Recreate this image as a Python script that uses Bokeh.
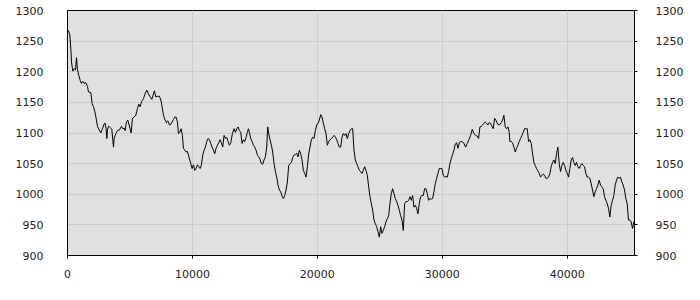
from bokeh.plotting import figure
from bokeh.models import Range1d, FixedTicker, LinearAxis
from bokeh.embed import file_html
from bokeh.resources import INLINE

xs = [0, 80, 187, 267, 320, 427, 533, 640, 720, 800, 907, 1013, 1120, 1227, 1333, 1467, 1600, 1680, 1867, 1973,
      2080, 2187, 2293, 2400, 2533, 2667, 2800, 2933, 3013, 3093, 3147, 3200, 3280, 3360, 3467, 3547, 3680, 3733,
      3867, 4000, 4160, 4320, 4427, 4533, 4613, 4720, 4827, 4933, 5013, 5093, 5200, 5333, 5467, 5600, 5707, 5813,
      5920, 6080, 6187, 6347, 6480, 6613, 6747, 6853, 6960, 7067, 7200, 7360, 7467, 7573, 7680, 7813, 7920, 8000,
      8080, 8160, 8267, 8373, 8480, 8587, 8693, 8800, 8880, 8987, 9093, 9200, 9280, 9387, 9493, 9600, 9680, 9787,
      9867, 9973, 10080, 10187, 10293, 10400, 10507, 10613, 10720, 10827, 10933, 11040, 11147, 11253, 11360, 11467,
      11573, 11680, 11787, 11893, 12000, 12107, 12213, 12320, 12427, 12533, 12640, 12747, 12853, 12960, 13067,
      13200, 13333, 13440, 13547, 13653, 13760, 13867, 13973, 14080, 14187, 14293, 14400, 14480, 14587, 14667,
      14773, 14880, 14987, 15093, 15200, 15307, 15413, 15520, 15627, 15733, 15840, 15947, 16027, 16107, 16213,
      16320, 16427, 16533, 16640, 16747, 16853, 16960, 17067, 17173, 17280, 17387, 17493, 17600, 17707, 17813,
      17920, 18027, 18133, 18240, 18347, 18453, 18560, 18667, 18773, 18880, 18987, 19093, 19200, 19307, 19413,
      19520, 19627, 19733, 19840, 19947, 20053, 20160, 20267, 20373, 20480, 20587, 20693, 20800, 20907, 21013,
      21120, 21227, 21333, 21440, 21547, 21653, 21760, 21867, 21973, 22080, 22187, 22293, 22400, 22507, 22613,
      22720, 22827, 22933, 23040, 23147, 23253, 23360, 23467, 23573, 23680, 23787, 23893, 24000, 24107, 24213,
      24320, 24427, 24533, 24640, 24747, 24853, 24960, 25067, 25173, 25280, 25387, 25493, 25600, 25707, 25813,
      25920, 26027, 26133, 26240, 26347, 26453, 26560, 26667, 26773, 26880, 26987, 27093, 27200, 27307, 27413,
      27520, 27627, 27733, 27840, 27947, 28053, 28160, 28267, 28373, 28480, 28587, 28693, 28800, 28907, 29013,
      29120, 29227, 29333, 29440, 29547, 29653, 29760, 29867, 29973, 30080, 30187, 30293, 30400, 30507, 30613,
      30720, 30827, 30933, 31040, 31147, 31253, 31360, 31467,
      31600, 31733, 31867, 32000, 32133, 32267, 32400, 32533, 32667, 32800, 32907, 33013, 33120, 33227, 33333,
      33440, 33547, 33653, 33760, 33867, 33973, 34080, 34187, 34293, 34400, 34507, 34613, 34720, 34827, 34933,
      35040, 35147, 35253, 35360, 35413, 35520, 35627, 35733, 35840, 35947, 36053, 36160, 36267, 36373, 36480,
      36587, 36693, 36800, 36907, 37013, 37120, 37227, 37333, 37440, 37547, 37653, 37760, 37867, 37973, 38080,
      38187, 38293, 38400, 38507, 38613, 38720, 38827, 38933, 39040, 39147, 39253, 39360, 39467, 39573, 39680,
      39787, 39893, 40000, 40107, 40213, 40320, 40427, 40533, 40640, 40747, 40853, 40960, 41067, 41173, 41280,
      41387, 41493, 41600, 41707, 41813, 41920, 42027, 42133, 42240, 42347, 42453, 42560, 42667, 42773, 42880,
      42987, 43093, 43200, 43307, 43413, 43520, 43627, 43733, 43840, 43947, 44053, 44160, 44267, 44373, 44480,
      44587, 44693, 44800, 44907, 45013, 45120, 45227, 45333, 45387]

ys = [1268, 1267, 1260, 1238, 1216, 1201, 1205, 1203, 1223, 1203, 1194, 1186, 1181, 1184, 1181, 1182, 1176, 1167,
      1166, 1148, 1143, 1135, 1124, 1111, 1105, 1100, 1107, 1115, 1116, 1107, 1091, 1105, 1111, 1110, 1108, 1106,
      1077, 1091, 1099, 1104, 1105, 1111, 1107, 1108, 1104, 1118, 1121, 1113, 1107, 1100, 1124, 1126, 1129, 1140,
      1147, 1143, 1151, 1156, 1163, 1170, 1164, 1159, 1155, 1162, 1169, 1159, 1160, 1160, 1154, 1143, 1129, 1121,
      1117, 1120, 1118, 1113, 1114, 1118, 1122, 1126, 1126, 1118, 1099, 1101, 1107, 1096, 1075, 1072, 1069, 1070,
      1064, 1056, 1050, 1042, 1048, 1039, 1042, 1048, 1045, 1042, 1048, 1064, 1072, 1077, 1086, 1091, 1089, 1083,
      1077, 1072, 1066, 1075, 1080, 1084, 1089, 1084, 1077, 1096, 1091, 1093, 1086, 1080, 1084,
      1099, 1107, 1101, 1107, 1110, 1104, 1101, 1083, 1089, 1086, 1093, 1101, 1107, 1099, 1091, 1086, 1080, 1077,
      1072, 1064, 1061, 1057, 1050, 1049, 1056, 1061, 1077, 1110, 1099, 1089, 1080, 1069, 1050, 1037, 1028, 1015,
      1007, 1004, 997, 993, 998, 1007, 1020, 1047, 1050, 1052, 1060, 1064, 1065, 1067, 1061, 1072, 1066, 1056, 1039,
      1034, 1028, 1045, 1066, 1077, 1089, 1093, 1091, 1104, 1113, 1116, 1121, 1130, 1126, 1116, 1107, 1099, 1080,
      1086, 1089, 1091, 1093, 1096, 1094, 1089, 1083, 1077, 1077, 1093, 1099, 1096, 1099, 1091, 1099, 1104, 1107,
      1107, 1072, 1056, 1050, 1045, 1039, 1037, 1034, 1039, 1045, 1039, 1031, 1012, 996, 985, 974, 958, 952, 947,
      939, 930, 947, 936, 941, 947, 955, 960, 965, 985, 1001, 1009, 1001, 993, 988, 982, 974, 965, 958, 941, 985,
      988, 988, 990, 996, 990, 998, 979, 982, 977, 968, 985, 996, 998, 998, 1009, 1009, 1001, 990, 993, 992, 993,
      1004, 1017, 1026, 1034, 1042, 1042, 1042, 1031, 1028, 1029, 1028, 1037, 1050, 1058, 1065, 1072, 1082, 1084,
      1075, 1084, 1086,
      1086, 1083, 1077, 1083, 1089, 1096, 1106, 1099, 1096, 1095, 1091, 1110, 1111, 1113, 1116, 1118, 1116, 1113,
      1117, 1116, 1111, 1107, 1124, 1121, 1116, 1113, 1114, 1117, 1121, 1129, 1110, 1107, 1110, 1101, 1086, 1086,
      1084, 1077, 1069, 1075, 1080, 1086, 1091, 1096, 1101, 1107, 1107, 1107, 1086, 1089, 1083, 1066, 1052, 1047,
      1042, 1038, 1034, 1028, 1031, 1033, 1031, 1026, 1026, 1028, 1034, 1045, 1052, 1056, 1050, 1066, 1077, 1050,
      1037, 1047, 1052, 1047, 1039, 1034, 1028, 1042, 1056, 1060, 1052, 1047, 1052, 1045, 1042, 1047, 1050, 1047,
      1045, 1034, 1028, 1028, 1026, 1017, 1007, 996, 1004, 1009, 1015, 1023, 1015, 1012, 1009, 996, 990, 985, 977,
      963, 982, 990, 998, 1015, 1023, 1028, 1026, 1028, 1020, 1015, 1007, 993, 985, 958, 958, 955, 944, 955, 952]

x_ticks = [0, 10000, 20000, 30000, 40000]
y_ticks = [900, 950, 1000, 1050, 1100, 1150, 1200, 1250, 1300]

p = figure(width=700, height=300, output_backend="svg", toolbar_location=None,
           x_range=Range1d(0, 45387), y_range=Range1d(900, 1300),
           min_border_left=67, min_border_right=66, min_border_top=10, min_border_bottom=45)
p.background_fill_color = "#e0e0e0"
p.border_fill_color = "white"
p.outline_line_color = "black"
p.outline_line_width = 1
p.outline_line_alpha = 1

p.line(xs, ys, line_color="black", line_width=1)

font = "DejaVu Sans"
p.xaxis.ticker = FixedTicker(ticks=x_ticks)
p.yaxis.ticker = FixedTicker(ticks=y_ticks)
p.xgrid.ticker = FixedTicker(ticks=x_ticks)
p.ygrid.ticker = FixedTicker(ticks=y_ticks)
p.grid.grid_line_color = "#cccccc"
p.grid.grid_line_width = 1

right = LinearAxis(ticker=FixedTicker(ticks=y_ticks))
p.add_layout(right, "right")

for ax in [p.xaxis[0], p.yaxis[0], right]:
    ax.axis_line_color = "black"
    ax.major_tick_line_color = "black"
    ax.minor_tick_line_color = None
    ax.major_tick_in = 0
    ax.major_label_text_font = font
    ax.major_label_text_font_size = "11px"
    ax.major_label_text_color = "#222222"

p.xaxis[0].major_tick_out = 3
p.xaxis[0].major_label_standoff = 11
p.yaxis[0].major_tick_out = 0
p.yaxis[0].major_label_standoff = 24
right.major_tick_out = 3
right.major_label_standoff = 18

open("out.html", "w").write(file_html(p, INLINE))
